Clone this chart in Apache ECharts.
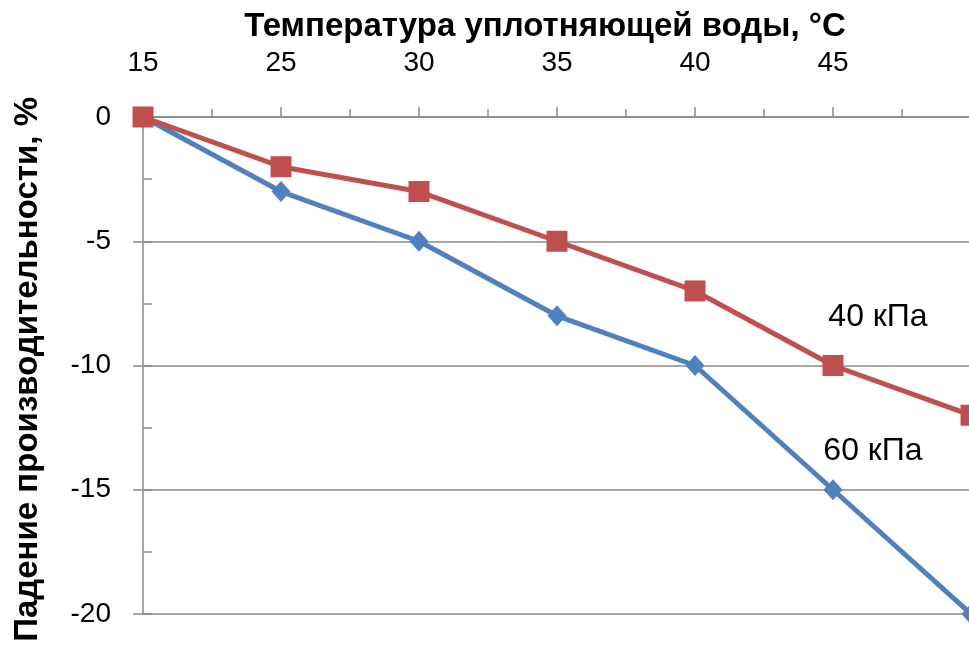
<!DOCTYPE html>
<html>
<head>
<meta charset="utf-8">
<title>Падение производительности</title>
<script src="https://cdn.jsdelivr.net/npm/echarts@6/dist/echarts.min.js"></script>
<style>
  html, body { margin: 0; padding: 0; background: #fff; }
  #chart { width: 969px; height: 646px; }
</style>
</head>
<body>
<div id="chart"></div>
<script>
// температура уплотняющей воды, °C
var tempCats = ['15', '25', '30', '35', '40', '45', '50'];
// падение производительности, %
var drop40kPa = [0, -2, -3, -5, -7, -10, -12];
var drop60kPa = [0, -3, -5, -8, -10, -15, -20];
var yTicks = [0, -5, -10, -15, -20];

var gridColor = '#8a8a8a';
var fontName = '"Liberation Sans", Arial, sans-serif';

function buildData(vals, labelIdx, labelText, offset) {
	return vals.map(function(v, i) {
		if (i === labelIdx) {
			return {
				value: [i, v],
				label: {
					show: true, position: 'inside', offset: offset,
					formatter: labelText,
					fontFamily: fontName, fontSize: 32, color: '#000'
				}
			};
		}
		return [i, v];
	});
}

var myChart = echarts.init(document.getElementById('chart'));
var option = {
	animation: false,
	backgroundColor: '#fff',
	grid: { left: 143, top: 117, width: 828, height: 497, containLabel: false, outerBoundsMode: 'none' },
	xAxis: {
		type: 'value', position: 'top', min: 0, max: tempCats.length - 1, interval: 1,
		axisLine: { show: true, onZero: false, lineStyle: { color: gridColor, width: 1.5 } },
		axisTick: { show: true, length: 10, lineStyle: { color: gridColor, width: 1.5 } },
		minorTick: { show: true, splitNumber: 2, length: 8, lineStyle: { color: gridColor, width: 1.5 } },
		splitLine: { show: false },
		axisLabel: {
			margin: 40, fontFamily: fontName, fontSize: 28, color: '#000', showMaxLabel: false,
			formatter: function(v) { return tempCats[v]; }
		}
	},
	yAxis: [{
		type: 'value', min: yTicks[yTicks.length - 1], max: yTicks[0], interval: 5,
		axisLine: { show: true, lineStyle: { color: gridColor, width: 1.5 } },
		axisTick: { show: true, length: 10, lineStyle: { color: gridColor, width: 1.5 } },
		splitLine: { show: true, lineStyle: { color: gridColor, width: 1.5 } },
		axisLabel: { margin: 32, fontFamily: fontName, fontSize: 28, color: '#000' }
	}, {
		// промежуточные штрихи внутрь
		type: 'value', position: 'left', min: -20, max: 0, interval: 2.5,
		axisLine: { show: false },
		axisTick: { show: true, inside: true, length: 9, lineStyle: { color: gridColor, width: 1.5 } },
		splitLine: { show: false },
		axisLabel: { show: false }
	}],
	graphic: [{
		type: 'text', x: 545, y: 27,
		style: {
			text: 'Температура уплотняющей воды, °C',
			font: 'bold 33px ' + fontName, fill: '#000',
			align: 'center', verticalAlign: 'middle'
		}
	}, {
		type: 'text', x: 28, y: 97, rotation: Math.PI / 2,
		style: {
			text: 'Падение производительности, %',
			font: 'bold 33px ' + fontName, fill: '#000',
			align: 'right', verticalAlign: 'middle'
		}
	}],
	series: [{
		name: '60 кПа', type: 'line',
		data: buildData(drop60kPa, 5, '60 кПа', [40, -39]),
		symbol: 'diamond', symbolSize: [19, 21],
		lineStyle: { color: '#4F81BD', width: 5 },
		itemStyle: { color: '#4F81BD' }
	}, {
		name: '40 кПа', type: 'line',
		data: buildData(drop40kPa, 5, '40 кПа', [45, -48]),
		symbol: 'rect', symbolSize: 21,
		lineStyle: { color: '#C0504D', width: 5 },
		itemStyle: { color: '#C0504D' }
	}]
};
myChart.setOption(option);
</script>
</body>
</html>
